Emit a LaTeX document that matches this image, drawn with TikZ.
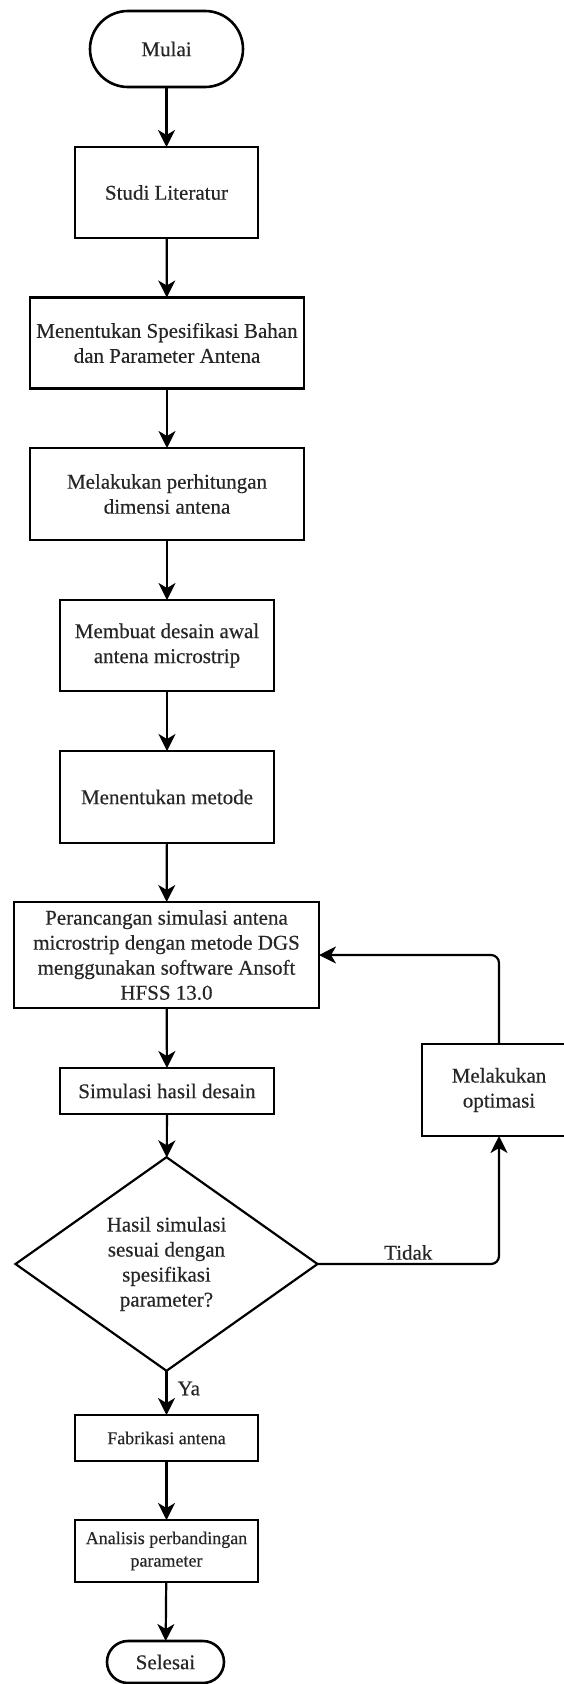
\documentclass[tikz,border=0pt]{standalone}
\usepackage{fontspec}
\setmainfont{Liberation Serif}[FakeBold=0.35]
\usetikzlibrary{shapes.geometric,arrows.meta}
\tikzset{
  base/.style={draw=black, line width=2.6pt, fill=white, align=center, inner sep=2pt, outer sep=0pt,
    font=\fontsize{21}{25}\selectfont, text=black!85},
  procbox/.style={base, rectangle},
  smallbox/.style={base, rectangle, font=\fontsize{18}{22.5}\selectfont},
  term/.style={base, rectangle, rounded corners=#1},
  decision/.style={base, diamond, line width=2.2pt, inner sep=0pt},
  arrow/.style={draw=black, line width=2.2pt, -{Stealth[length=17pt,width=17pt,inset=5pt]}},
  lbl/.style={font=\fontsize{21}{25}\selectfont, text=black!85, inner sep=2pt}
}
\begin{document}
\begin{tikzpicture}[x=1pt,y=-1pt]
\useasboundingbox (0,0) rectangle (563,1684);
\node[term=38pt, minimum width=153pt, minimum height=76pt] (start) at (166.5,49) {Mulai};
\node[procbox, minimum width=183pt, minimum height=91pt] (studi) at (166.5,192.5) {Studi Literatur};
\node[procbox, minimum width=274pt, minimum height=91pt] (spek) at (167,343) {Menentukan Spesifikasi Bahan\\dan Parameter Antena};
\node[procbox, minimum width=274pt, minimum height=92pt] (hitung) at (167,494) {Melakukan perhitungan\\dimensi antena};
\node[procbox, minimum width=214pt, minimum height=91pt] (desain) at (167,645.5) {Membuat desain awal\\antena microstrip};
\node[procbox, minimum width=214pt, minimum height=92pt] (metode) at (167,797) {Menentukan metode};
\node[procbox, minimum width=305pt, minimum height=106pt] (rancang) at (166.5,955) {Perancangan simulasi antena\\microstrip dengan metode DGS\\menggunakan software Ansoft\\HFSS 13.0};
\node[procbox, minimum width=214pt, minimum height=46pt] (sim) at (167,1091) {Simulasi hasil desain};
\node[decision, minimum width=302pt, minimum height=174pt] (dec) at (166.5,1264) {Hasil simulasi\\sesuai dengan\\spesifikasi\\parameter?};
\node[procbox, minimum width=154pt, minimum height=92pt] (opt) at (499,1090) {Melakukan\\optimasi};
\node[smallbox, minimum width=183pt, minimum height=46pt] (fab) at (166.5,1438) {Fabrikasi antena};
\node[smallbox, minimum width=183pt, minimum height=62pt] (anal) at (166.5,1551) {Analisis perbandingan\\parameter};
\node[term=21pt, minimum width=117pt, minimum height=42pt] (end) at (165.5,1662) {Selesai};

\draw[arrow] (start) -- (studi);
\draw[arrow] (studi) -- (spek);
\draw[arrow] (spek) -- (hitung);
\draw[arrow] (hitung) -- (desain);
\draw[arrow] (desain) -- (metode);
\draw[arrow] (metode) -- (rancang);
\draw[arrow] (rancang) -- (sim);
\draw[arrow] (sim) -- (dec);
\draw[arrow] (dec.south) -- node[lbl, pos=0.4, right, xshift=8pt] (ya) {Ya} (fab.north);
\draw[arrow] (fab) -- (anal);
\draw[arrow] (anal) -- (end);
\draw[arrow, rounded corners=8pt] (dec.east) -- node[lbl, above, yshift=1pt] (tidak) {Tidak} (dec.east -| opt.south) -- (opt.south);
\draw[arrow, rounded corners=8pt] (opt.north) |- (rancang.east);
\end{tikzpicture}
\end{document}
